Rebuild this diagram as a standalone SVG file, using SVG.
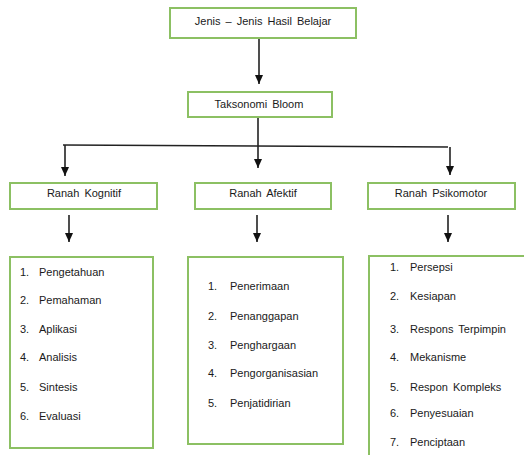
<svg xmlns="http://www.w3.org/2000/svg" width="524" height="455" viewBox="0 0 524 455">
<style>
.box{fill:#fff;stroke:#8cc063;stroke-width:2}
.t{font-family:"Liberation Sans",Arial,sans-serif;font-size:11px;fill:#1a1a1a;word-spacing:2px}
.c{text-anchor:middle}
.ln{stroke:#222;stroke-width:1.6;fill:none}
</style>
<defs>
<marker id="ah" markerWidth="9" markerHeight="8" refX="9" refY="4" orient="auto" markerUnits="userSpaceOnUse" viewBox="0 0 9 8">
<path d="M0,0 L9,4 L0,8 Z" fill="#111"/>
</marker>
</defs>
<rect width="524" height="455" fill="#fff"/>
<g id="connectors">
<line class="ln" x1="259" y1="38" x2="259" y2="84" marker-end="url(#ah)"/>
<line class="ln" x1="63" y1="145" x2="448" y2="147"/>
<line class="ln" x1="258" y1="117" x2="258" y2="168" marker-end="url(#ah)"/>
<line class="ln" x1="65" y1="145" x2="65" y2="176" marker-end="url(#ah)"/>
<line class="ln" x1="450" y1="147" x2="450" y2="175" marker-end="url(#ah)"/>
<line class="ln" x1="69" y1="215" x2="69" y2="242" marker-end="url(#ah)"/>
<line class="ln" x1="257" y1="215" x2="257" y2="242" marker-end="url(#ah)"/>
<line class="ln" x1="448" y1="215" x2="448" y2="242" marker-end="url(#ah)"/>
</g>
<g id="n-jenis">
<rect class="box" x="170" y="8" width="186" height="30"/>
<text class="t c" x="263" y="25">Jenis – Jenis Hasil Belajar</text>
</g>
<g id="n-bloom">
<rect class="box" x="188" y="92" width="144" height="25"/>
<text class="t c" x="259" y="108">Taksonomi Bloom</text>
</g>
<g id="n-kognitif">
<rect class="box" x="10" y="183" width="147" height="26"/>
<text class="t c" x="84" y="197">Ranah Kognitif</text>
</g>
<g id="n-afektif">
<rect class="box" x="195" y="183" width="136" height="26"/>
<text class="t c" x="263" y="197">Ranah Afektif</text>
</g>
<g id="n-psikomotor">
<rect class="box" x="368" y="183" width="147" height="26"/>
<text class="t c" x="441" y="197">Ranah Psikomotor</text>
</g>
<g id="n-list-kognitif">
<rect class="box" x="10" y="257" width="143" height="191"/>
<g class="t">
<text x="20" y="276">1.</text><text x="39" y="276">Pengetahuan</text>
<text x="20" y="304">2.</text><text x="39" y="304">Pemahaman</text>
<text x="20" y="333">3.</text><text x="39" y="333">Aplikasi</text>
<text x="20" y="361">4.</text><text x="39" y="361">Analisis</text>
<text x="20" y="391">5.</text><text x="39" y="391">Sintesis</text>
<text x="20" y="420">6.</text><text x="39" y="420">Evaluasi</text>
</g>
</g>
<g id="n-list-afektif">
<rect class="box" x="188" y="257" width="155" height="187"/>
<g class="t">
<text x="208" y="290">1.</text><text x="230" y="290">Penerimaan</text>
<text x="208" y="320">2.</text><text x="230" y="320">Penanggapan</text>
<text x="208" y="349">3.</text><text x="230" y="349">Penghargaan</text>
<text x="208" y="377">4.</text><text x="230" y="377">Pengorganisasian</text>
<text x="208" y="407">5.</text><text x="230" y="407">Penjatidirian</text>
</g>
</g>
<g id="n-list-psikomotor">
<rect class="box" x="369" y="256" width="160" height="210"/>
<g class="t">
<text x="390" y="271">1.</text><text x="410" y="271">Persepsi</text>
<text x="390" y="300">2.</text><text x="410" y="300">Kesiapan</text>
<text x="390" y="333">3.</text><text x="410" y="333">Respons Terpimpin</text>
<text x="390" y="361">4.</text><text x="410" y="361">Mekanisme</text>
<text x="390" y="391">5.</text><text x="410" y="391">Respon Kompleks</text>
<text x="390" y="417">6.</text><text x="410" y="417">Penyesuaian</text>
<text x="390" y="446">7.</text><text x="410" y="446">Penciptaan</text>
</g>
</g>
</svg>
